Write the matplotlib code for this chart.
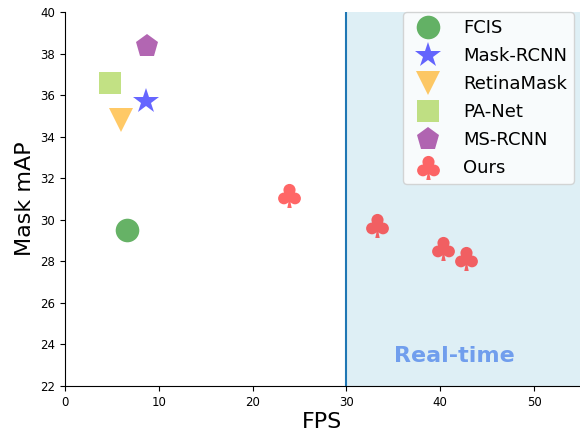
import numpy as np
import matplotlib
matplotlib.use('Agg')
import matplotlib.pyplot as plt
from matplotlib.path import Path

# data (FPS, mask mAP)
methods = ['FCIS', 'Mask-RCNN', 'RetinaMask', 'PA-Net', 'MS-RCNN']
fps = [6.6, 8.6, 6.0, 4.8, 8.7]
mask_map = [29.5, 35.7, 34.8, 36.6, 38.35]
markers = ['o', '*', 'v', 's', 'p']
colors = ['green', 'blue', 'orange', 'yellowgreen', 'purple']
sizes = [17, 19, 17, 16, 17]

ours_fps = [23.9, 33.3, 40.3, 42.8]
ours_map = [31.2, 29.75, 28.65, 28.15]


# solid club marker: three lobes and a small stem
def club_marker():
    parts = [Path.circle((0, 0.3), 0.33),
             Path.circle((-0.3, -0.16), 0.32),
             Path.circle((0.3, -0.16), 0.32),
             Path.circle((0, -0.02), 0.22),
             Path([(0, -0.1), (-0.12, -0.68), (0.12, -0.68), (0, -0.1)],
                  [Path.MOVETO, Path.LINETO, Path.LINETO, Path.CLOSEPOLY])]
    return Path.make_compound_path(*parts)


fig = plt.figure(figsize=(5.8, 4.33), dpi=100)
ax = fig.add_axes([65 / 580, 47 / 433, 515 / 580, 374 / 433])

ax.axvspan(30, 56, color='lightblue', alpha=0.4, lw=0)
ax.axvline(30, color='#1f77b4', lw=1.5)

for name, x, y, m, c, s in zip(methods, fps, mask_map, markers, colors, sizes):
    ax.plot(x, y, linestyle='none', marker=m, color=c, alpha=0.6,
            markersize=s, markeredgewidth=0, label=name)

ax.plot(ours_fps, ours_map, linestyle='none', marker=club_marker(), color='red',
        alpha=0.6, markersize=18, markeredgewidth=0, label='Ours')

ax.text(41.5, 23.45, 'Real-time', color='cornflowerblue', fontsize=16,
        fontweight='bold', ha='center', va='center', alpha=0.9)

ax.set_xlim(0, 54.9)
ax.set_ylim(22, 40)
ax.set_xticks(np.arange(0, 51, 10))
ax.set_yticks(np.arange(22, 41, 2))
ax.tick_params(labelsize=8.5)
ax.spines['top'].set_visible(False)
ax.spines['right'].set_visible(False)
ax.set_xlabel('FPS', fontsize=16, labelpad=2)
ax.set_ylabel('Mask mAP', fontsize=16, labelpad=4)

ax.legend(loc='upper right', bbox_to_anchor=(574 / 580, 421 / 433),
          bbox_transform=fig.transFigure, borderaxespad=0, fontsize=13,
          labelspacing=0.55, handletextpad=0.9)

fig.savefig('out.png', dpi=100)
